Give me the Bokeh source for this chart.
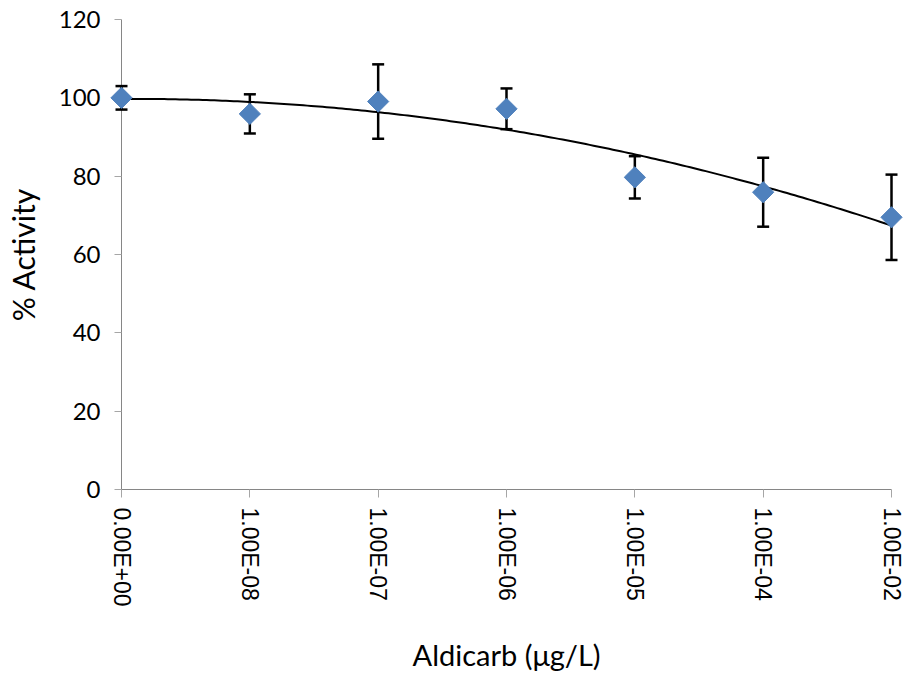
import numpy as np
from bokeh.plotting import figure
from bokeh.models import Range1d, FixedTicker, ColumnDataSource
from bokeh.embed import file_html
from bokeh.resources import INLINE

# ---- data ----
categories = ["0.00E+00", "1.00E-08", "1.00E-07", "1.00E-06", "1.00E-05", "1.00E-04", "1.00E-02"]
activity = [100.0, 95.9, 99.05, 97.2, 79.7, 75.9, 69.5]
errors = [3.0, 5.0, 9.5, 5.2, 5.4, 8.8, 10.9]
y_ticks = [0, 20, 40, 60, 80, 100, 120]

x_pos = list(range(len(categories)))
upper = [a + e for a, e in zip(activity, errors)]
lower = [a - e for a, e in zip(activity, errors)]

# second-order polynomial trend line fitted to the data (as the spreadsheet trendline)
coef = np.polyfit(x_pos, activity, 2)
xs = np.linspace(0, len(categories) - 1, 200)
ys = np.polyval(coef, xs)

p = figure(width=904, height=675, output_backend="svg", toolbar_location=None,
           x_range=Range1d(0, len(categories) - 1), y_range=Range1d(0, 120),
           min_border_left=121, min_border_right=13, min_border_top=19, min_border_bottom=186)
p.outline_line_color = None
p.background_fill_color = "white"
p.border_fill_color = "white"
p.xgrid.visible = False
p.ygrid.visible = False

axis_col = "#868686"
tick_col = "#A6A6A6"
# x axis
p.xaxis.ticker = FixedTicker(ticks=x_pos)
p.xaxis.major_label_overrides = {i: c for i, c in enumerate(categories)}
p.xaxis.major_label_orientation = -np.pi / 2
p.xaxis.major_label_text_font = "Liberation Sans"
p.xaxis.major_label_text_font_size = "23px"
p.xaxis.major_label_text_color = "black"
p.xaxis.major_label_standoff = 10
p.xaxis.major_tick_in = 0
p.xaxis.major_tick_out = 8
p.xaxis.minor_tick_line_color = None
p.xaxis.axis_line_color = axis_col
p.xaxis.major_tick_line_color = tick_col
p.xaxis.axis_label = "Aldicarb (μg/L)"
p.xaxis.axis_label_text_font = "Lato"
p.xaxis.axis_label_text_font_size = "29px"
p.xaxis.axis_label_text_font_style = "normal"
p.xaxis.axis_label_text_color = "black"
p.xaxis.axis_label_standoff = 27

# y axis
p.yaxis.ticker = FixedTicker(ticks=y_ticks)
p.yaxis.major_label_text_font = "Lato"
p.yaxis.major_label_text_font_size = "24px"
p.yaxis.major_label_text_color = "black"
p.yaxis.major_label_standoff = 14
p.yaxis.major_tick_in = 0
p.yaxis.major_tick_out = 7
p.yaxis.minor_tick_line_color = None
p.yaxis.axis_line_color = axis_col
p.yaxis.major_tick_line_color = tick_col
p.yaxis.axis_label = "% Activity"
p.yaxis.axis_label_text_font = "Lato"
p.yaxis.axis_label_text_font_size = "30px"
p.yaxis.axis_label_text_font_style = "normal"
p.yaxis.axis_label_text_color = "black"
p.yaxis.axis_label_standoff = 15

# trend line
tl = p.line(xs, ys, line_color="black", line_width=2)
tl.level = "overlay"

src = ColumnDataSource(dict(x=x_pos, y=activity, upper=upper, lower=lower))
stems = p.segment(x0="x", y0="lower", x1="x", y1="upper", source=src,
                  line_color="black", line_width=2.5)
stems.level = "overlay"
caps_u = p.scatter("x", "upper", source=src, marker="dash", size=12,
                   line_color="black", line_width=2.5)
caps_u.level = "overlay"
caps_l = p.scatter("x", "lower", source=src, marker="dash", size=12,
                   line_color="black", line_width=2.5)
caps_l.level = "overlay"

sc = p.scatter("x", "y", source=src, marker="square", size=15, angle=np.pi / 4,
               fill_color="#4F81BD", line_color="#4F81BD", line_width=1)
sc.level = "overlay"

open("out.html", "w").write(file_html(p, INLINE))
